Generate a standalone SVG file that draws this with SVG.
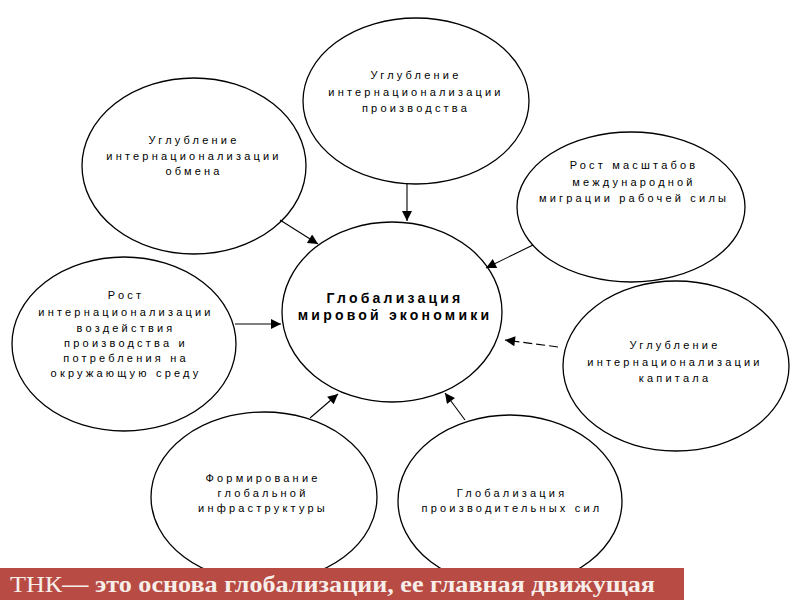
<svg xmlns="http://www.w3.org/2000/svg" width="800" height="600" viewBox="0 0 800 600">
<defs>
<style>
.node ellipse{fill:#fff;stroke:#000;stroke-width:1.3}
.t{font-family:"Liberation Sans",Arial,sans-serif;font-size:11px;letter-spacing:3.2px;text-anchor:middle;fill:#000}
.tc{font-family:"Liberation Sans",Arial,sans-serif;font-size:14px;font-weight:bold;letter-spacing:3.2px;text-anchor:middle;fill:#000}
.c{stroke:#000;stroke-width:1.1;fill:none;marker-end:url(#ah)}
.d{stroke-dasharray:9 4}
.ban{font-family:"Liberation Serif","Times New Roman",serif;font-size:24px;fill:#f7eeea}
</style>
<marker id="ah" viewBox="0 0 10 10" refX="10" refY="5" markerWidth="12" markerHeight="10" markerUnits="userSpaceOnUse" orient="auto">
<path d="M0,0 L10,5 L0,10 z" fill="#000"/>
</marker>
</defs>
<rect width="800" height="600" fill="#fff"/>

<g id="n-top" class="node">
<ellipse cx="416" cy="101" rx="113" ry="83"/>
<text class="t" x="416" y="79">Углубление</text>
<text class="t" x="416" y="96">интернационализации</text>
<text class="t" x="416" y="112">производства</text>
</g>
<g id="n-topleft" class="node">
<ellipse cx="194" cy="166" rx="112" ry="88"/>
<text class="t" x="194" y="144">Углубление</text>
<text class="t" x="194" y="160">интернационализации</text>
<text class="t" x="194" y="175">обмена</text>
</g>
<g id="n-topright" class="node">
<ellipse cx="631" cy="207" rx="114" ry="75"/>
<text class="t" x="634" y="169">Рост масштабов</text>
<text class="t" x="634" y="186">международной</text>
<text class="t" x="634" y="202">миграции рабочей силы</text>
</g>
<g id="n-right" class="node">
<ellipse cx="676" cy="366" rx="113" ry="85"/>
<text class="t" x="675" y="349">Углубление</text>
<text class="t" x="675" y="366">интернационализации</text>
<text class="t" x="675" y="382">капитала</text>
</g>
<g id="n-left" class="node">
<ellipse cx="124" cy="344" rx="112" ry="87"/>
<text class="t" x="126" y="299">Рост</text>
<text class="t" x="126" y="316">интернационализации</text>
<text class="t" x="126" y="332">воздействия</text>
<text class="t" x="126" y="347">производства и</text>
<text class="t" x="126" y="362">потребления на</text>
<text class="t" x="126" y="377">окружающую среду</text>
</g>
<g id="n-bottomleft" class="node">
<ellipse cx="264" cy="497" rx="113" ry="85"/>
<text class="t" x="263" y="482">Формирование</text>
<text class="t" x="263" y="497">глобальной</text>
<text class="t" x="263" y="512">инфраструктуры</text>
</g>
<g id="n-bottomright" class="node">
<ellipse cx="510" cy="501" rx="112" ry="86"/>
<text class="t" x="512" y="497">Глобализация</text>
<text class="t" x="512" y="512">производительных сил</text>
</g>
<g id="n-center" class="node">
<ellipse cx="392" cy="312" rx="110" ry="90"/>
<text class="tc" x="395" y="303">Глобализация</text>
<text class="tc" x="395" y="320">мировой экономики</text>
</g>

<g id="connectors">
<line class="c" x1="407" y1="184" x2="407" y2="221"/>
<line class="c" x1="280" y1="220" x2="318" y2="244"/>
<line class="c" x1="533" y1="245" x2="486" y2="268"/>
<line class="c d" x1="558" y1="347" x2="505" y2="340"/>
<line class="c" x1="235" y1="324" x2="281" y2="324"/>
<line class="c" x1="310" y1="418" x2="338" y2="394"/>
<line class="c" x1="465" y1="420" x2="445" y2="393"/>
</g>

<g id="banner">
<rect x="0" y="568" width="684" height="32" fill="#b84b43"/>
<text class="ban" x="10" y="592" textLength="645" lengthAdjust="spacingAndGlyphs">ТНК<tspan font-weight="bold">— это основа глобализации, ее главная движущая</tspan></text>
</g>
</svg>
